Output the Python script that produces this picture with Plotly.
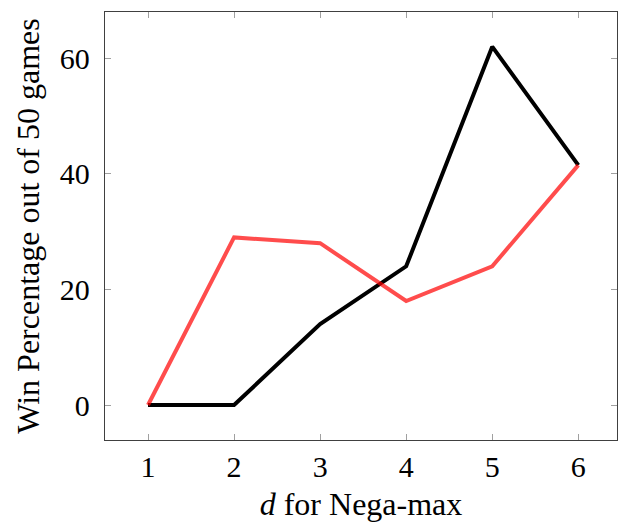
import plotly.graph_objects as go

depths = [1, 2, 3, 4, 5, 6]
black_series = [0, 0, 14, 24, 62, 41.5]
red_series = [0, 29, 28, 18, 24, 41.5]
x_ticks = [1, 2, 3, 4, 5, 6]
y_ticks = [0, 20, 40, 60]

fig = go.Figure()
fig.add_trace(go.Scatter(x=depths, y=black_series, mode="lines",
                         line=dict(color="black", width=4), showlegend=False))
fig.add_trace(go.Scatter(x=depths, y=red_series, mode="lines",
                         line=dict(color="rgba(255,0,0,0.7)", width=4), showlegend=False))

serif = "Liberation Serif"
tick_font = dict(family=serif, size=30, color="black")
title_font = dict(family=serif, size=32, color="black")
fig.update_layout(
    width=618, height=525,
    margin=dict(l=105, r=1, t=12, b=85),
    paper_bgcolor="white", plot_bgcolor="white",
    font=tick_font,
)
fig.update_xaxes(range=[0.5, 6.45], tickvals=x_ticks, ticks="inside", ticklen=6,
                 tickcolor="#a0a0a0", tickwidth=1, mirror="ticks",
                 showline=True, linecolor="#404040", linewidth=1.3,
                 showgrid=False, zeroline=False, ticklabelstandoff=0,
                 title=dict(text="<i>d</i> for Nega-max", standoff=10, font=title_font),
                 tickfont=tick_font)
fig.update_yaxes(range=[-6.05, 68], tickvals=y_ticks, ticks="inside", ticklen=6,
                 tickcolor="#a0a0a0", tickwidth=1, mirror="ticks",
                 showline=True, linecolor="#404040", linewidth=1.3,
                 showgrid=False, zeroline=False, ticklabelstandoff=8,
                 title=dict(text="Win Percentage out of 50 games", standoff=10, font=title_font),
                 tickfont=tick_font)
fig.write_html("out.html")
